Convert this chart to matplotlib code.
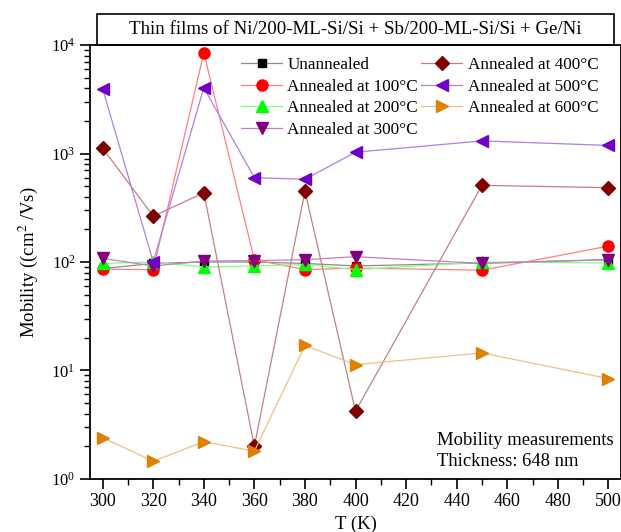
import matplotlib
matplotlib.use("Agg")
import matplotlib.pyplot as plt
from matplotlib.patches import Rectangle
from matplotlib.ticker import MultipleLocator, LogLocator, LogFormatterMathtext, NullFormatter

plt.rcParams['font.family'] = ['Liberation Serif', 'DejaVu Serif']
plt.rcParams['mathtext.fontset'] = 'stix'
plt.rcParams['font.size'] = 12

temps = [300, 320, 340, 360, 380, 400, 450, 500]

unannealed = [87, 97, 100, 100, 97, 92, 98, 105]
ann_100 = [86, 85, 8500, 105, 85, 88, 84, 140]
ann_200 = [97, 100, 90, 92, 95, 85, 100, 98]
ann_300 = [108, 92, 102, 103, 105, 112, 97, 105]
ann_400 = [1120, 265, 435, 2.0, 450, 4.2, 510, 485]
ann_500 = [3950, 100, 4050, 600, 580, 1030, 1310, 1190]
ann_600 = [2.4, 1.45, 2.2, 1.8, 17, 11.3, 14.5, 8.4]

labels = ["Unannealed", "Annealed at 100°C", "Annealed at 200°C", "Annealed at 300°C",
          "Annealed at 400°C", "Annealed at 500°C", "Annealed at 600°C"]
series = [unannealed, ann_100, ann_200, ann_300, ann_400, ann_500, ann_600]
# (line colour, marker colour, marker, size)
styles = [
    ("#8c8c8c", "#000000", "s", 5.5),
    ("#ff8080", "#ff0000", "o", 8),
    ("#80ff80", "#00ff00", "^", 8),
    ("#c080c0", "#800080", "v", 8),
    ("#c08080", "#800000", "D", 7),
    ("#b080e0", "#7000c8", "<", 8),
    ("#f0c080", "#e08000", ">", 8),
]

fig = plt.figure(figsize=(6.21, 5.32), dpi=100)
ax = fig.add_axes([0.145, 0.100, 0.855, 0.815])

handles = []
for vals, lab, (lc, mc, mk, ms) in zip(series, labels, styles):
    h, = ax.plot(temps, vals, color=lc, lw=0.9, marker=mk, ms=ms,
                 markerfacecolor=mc, markeredgecolor=mc, label=lab)
    handles.append(h)

ax.set_yscale('log')
ax.set_ylim(1, 1e4)
ax.set_xlim(295, 505)
ax.xaxis.set_major_locator(MultipleLocator(20))
ax.xaxis.set_minor_locator(MultipleLocator(10))
ax.yaxis.set_major_locator(LogLocator(base=10, numticks=10))
ax.yaxis.set_major_formatter(LogFormatterMathtext())
ax.yaxis.set_minor_locator(LogLocator(base=10, subs=range(2, 10), numticks=20))
ax.yaxis.set_minor_formatter(NullFormatter())
ax.tick_params(which='major', direction='out', length=7, width=1.2)
ax.tick_params(axis='x', labelsize=13)
ax.tick_params(axis='y', labelsize=12)
ax.tick_params(which='minor', direction='out', length=4, width=1.0)
for sp in ax.spines.values():
    sp.set_linewidth(1.3)

ax.set_xlabel("T (K)", fontsize=13.5, labelpad=4)
ax.set_ylabel("Mobility ((cm$^2$ /Vs)", fontsize=13.5, labelpad=8)

leg = ax.legend(handles, labels, ncol=2, loc='upper left', bbox_to_anchor=(0.262, 1.0),
                frameon=False, fontsize=12.3, handlelength=2.4, handletextpad=0.3,
                columnspacing=0.2, labelspacing=0.33, borderpad=0.2)

ax.text(0.653, 0.088, "Mobility measurements", transform=ax.transAxes,
        ha='left', va='center', fontsize=13.4)
ax.text(0.653, 0.039, "Thickness: 648 nm", transform=ax.transAxes,
        ha='left', va='center', fontsize=13.4)

# title box above the plot
fig.patches.append(Rectangle((97 / 621, 1 - 45 / 532), (614 - 97) / 621, 31 / 532,
                             transform=fig.transFigure, fill=False, lw=1.2, ec='black'))
fig.text((97 + 614) / 2 / 621, 1 - 30 / 532,
         "Thin films of Ni/200-ML-Si/Si + Sb/200-ML-Si/Si + Ge/Ni",
         ha='center', va='center', fontsize=13.6)

fig.savefig("out.png", dpi=100)
